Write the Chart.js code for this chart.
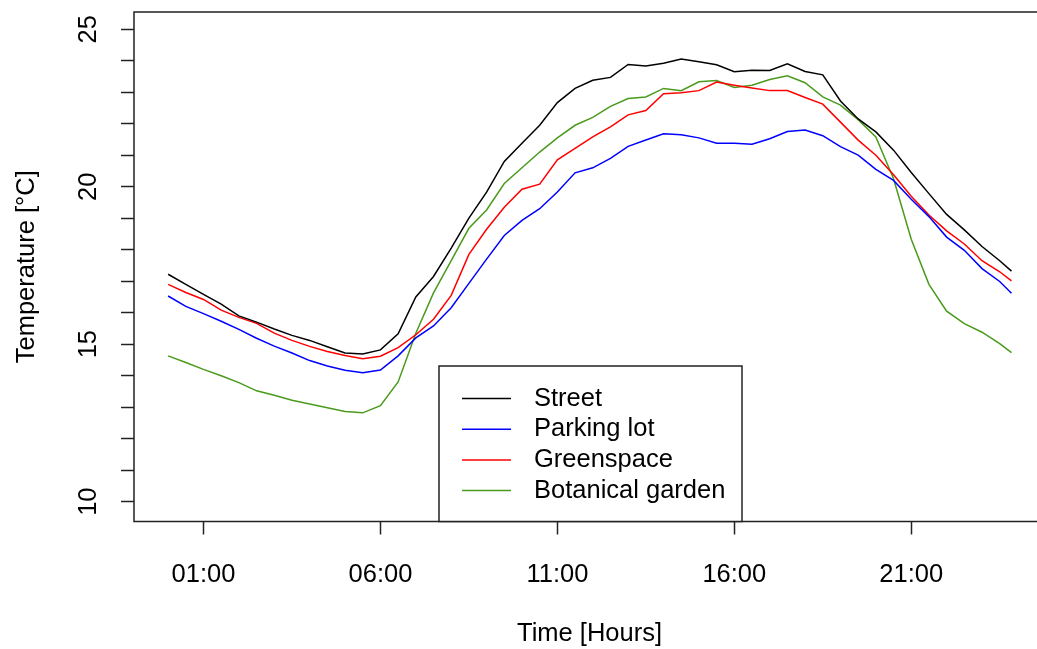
<!DOCTYPE html>
<html>
<head>
<meta charset="utf-8">
<script src="https://cdn.jsdelivr.net/npm/chart.js@4/dist/chart.umd.min.js"></script>
<style>
  html, body { margin: 0; padding: 0; background: #fff; overflow: hidden; }
  #wrap { width: 1060px; height: 649px; }
</style>
</head>
<body>
<div id="wrap"><canvas id="chart"></canvas></div>
<script>
// time of day in hours (half-hourly readings, last at 23:50)
const hours = [0, 0.5, 1, 1.5, 2, 2.5, 3, 3.5, 4, 4.5, 5, 5.5, 6, 6.5, 7, 7.5, 8, 8.5, 9, 9.5,
  10, 10.5, 11, 11.5, 12, 12.5, 13, 13.5, 14, 14.5, 15, 15.5, 16, 16.5, 17, 17.5, 18, 18.5, 19, 19.5,
  20, 20.5, 21, 21.5, 22, 22.5, 23, 23.5, 23.833];

const street = [17.22, 16.90, 16.58, 16.27, 15.90, 15.70, 15.48, 15.28, 15.12, 14.92, 14.72, 14.69, 14.82, 15.33,
  16.50, 17.15, 18.05, 19.00, 19.83, 20.80, 21.38, 21.95, 22.67, 23.12, 23.38, 23.47, 23.88, 23.83, 23.92, 24.05,
  23.97, 23.87, 23.65, 23.70, 23.69, 23.90, 23.66, 23.55, 22.72, 22.15, 21.74, 21.16, 20.45, 19.78, 19.12, 18.63,
  18.10, 17.65, 17.32];
const parkingLot = [16.53, 16.20, 15.97, 15.73, 15.47, 15.19, 14.94, 14.72, 14.48, 14.31, 14.17, 14.09, 14.18, 14.63,
  15.20, 15.58, 16.16, 16.93, 17.70, 18.45, 18.93, 19.30, 19.83, 20.44, 20.60, 20.90, 21.28, 21.48, 21.68, 21.65,
  21.55, 21.38, 21.38, 21.35, 21.52, 21.75, 21.80, 21.62, 21.27, 21.00, 20.55, 20.20, 19.60, 19.05, 18.40, 17.98,
  17.40, 16.99, 16.62];
const greenspace = [16.90, 16.64, 16.42, 16.08, 15.85, 15.66, 15.35, 15.12, 14.93, 14.77, 14.64, 14.54, 14.62, 14.89,
  15.30, 15.79, 16.55, 17.85, 18.65, 19.35, 19.92, 20.08, 20.85, 21.22, 21.58, 21.90, 22.28, 22.42, 22.95, 22.98,
  23.05, 23.32, 23.22, 23.13, 23.05, 23.05, 22.83, 22.62, 22.05, 21.48, 21.00, 20.38, 19.70, 19.10, 18.60, 18.18,
  17.65, 17.30, 17.01];
const botanicalGarden = [14.63, 14.42, 14.20, 14.00, 13.78, 13.52, 13.38, 13.22, 13.10, 12.98, 12.86, 12.82, 13.05, 13.80,
  15.35, 16.63, 17.65, 18.68, 19.26, 20.10, 20.60, 21.10, 21.55, 21.95, 22.20, 22.55, 22.80, 22.85, 23.12, 23.05,
  23.33, 23.37, 23.15, 23.22, 23.40, 23.52, 23.30, 22.85, 22.59, 22.13, 21.58, 20.25, 18.33, 16.90, 16.05, 15.65,
  15.38, 15.02, 14.73];

const seriesNames = ['Street', 'Parking lot', 'Greenspace', 'Botanical garden'];
const seriesColors = ['#000000', '#0000FF', '#FF0000', '#4A9A1C'];

const xTickHours = [1, 6, 11, 16, 21];
const xTickLabels = ['01:00', '06:00', '11:00', '16:00', '21:00'];
const yTickValues = [10, 11, 12, 13, 14, 15, 16, 17, 18, 19, 20, 21, 22, 23, 24, 25];
const yLabelEvery = 5;

const fontFamily = '"Liberation Sans", Arial, sans-serif';
const fontSize = 25.5;
Chart.defaults.font.family = fontFamily;
Chart.defaults.font.size = fontSize;
Chart.defaults.color = '#000';

function toPoints(values) {
  return values.map((v, i) => ({ x: hours[i], y: v }));
}

const allSeries = [street, parkingLot, greenspace, botanicalGarden];
const datasets = allSeries.map((values, i) => ({
  label: seriesNames[i],
  data: toPoints(values),
  borderColor: seriesColors[i],
  borderWidth: 1.5,
  pointRadius: 0,
  tension: 0,
  fill: false,
}));

// R-style box around the plot region (right side runs off the picture)
const plotBox = {
  id: 'plotBox',
  afterDatasetsDraw(chart) {
    const { ctx, chartArea: { left, top, width, height } } = chart;
    ctx.save();
    ctx.strokeStyle = '#222';
    ctx.lineWidth = 1.5;
    ctx.strokeRect(left, top, width, height);
    ctx.restore();
  },
};

// boxed legend sitting on the bottom axis
const boxLegend = {
  id: 'boxLegend',
  afterDraw(chart) {
    const { ctx } = chart;
    const bottom = chart.chartArea.bottom;
    const boxLeft = 439;
    const boxRight = 742;
    const boxTop = 366;
    ctx.save();
    ctx.fillStyle = '#fff';
    ctx.fillRect(boxLeft, boxTop, boxRight - boxLeft, bottom - boxTop);
    ctx.strokeStyle = '#222';
    ctx.lineWidth = 1.5;
    ctx.strokeRect(boxLeft, boxTop, boxRight - boxLeft, bottom - boxTop);
    ctx.font = `${fontSize}px ${fontFamily}`;
    ctx.textBaseline = 'middle';
    ctx.textAlign = 'left';
    chart.data.datasets.forEach((ds, i) => {
      const y = 398.5 + i * 30.7;
      ctx.strokeStyle = ds.borderColor;
      ctx.lineWidth = 1.5;
      ctx.beginPath();
      ctx.moveTo(462, y);
      ctx.lineTo(511, y);
      ctx.stroke();
      ctx.fillStyle = '#000';
      ctx.fillText(ds.label, 534, y);
    });
    ctx.restore();
  },
};

new Chart(document.getElementById('chart'), {
  type: 'line',
  data: { datasets },
  options: {
    responsive: true,
    maintainAspectRatio: false,
    animation: false,
    layout: { padding: { left: 0, top: 12, right: 15, bottom: 0 } },
    plugins: {
      legend: { display: false },
      tooltip: { enabled: false },
    },
    scales: {
      x: {
        type: 'linear',
        min: -0.964,
        max: 24.78,
        afterBuildTicks: (scale) => {
          scale.ticks = xTickHours.map((h) => ({ value: h }));
        },
        afterFit: (scale) => {
          scale.height = 127.5;
          scale.paddingLeft = 0;
          scale.paddingRight = 0;
        },
        border: { display: false },
        grid: {
          drawOnChartArea: false,
          tickLength: 13,
          tickColor: '#222',
          tickWidth: 1.5,
        },
        ticks: {
          autoSkip: false,
          maxRotation: 0,
          padding: 25,
          callback: (value) => xTickLabels[xTickHours.indexOf(value)],
        },
        title: {
          display: true,
          text: 'Time [Hours]',
          padding: { top: 0, bottom: 0 },
        },
      },
      y: {
        min: 9.371,
        max: 25.546,
        afterBuildTicks: (scale) => {
          scale.ticks = yTickValues.map((v) => ({ value: v }));
        },
        afterFit: (scale) => {
          scale.width = 134;
          scale.paddingTop = 0;
          scale.paddingBottom = 0;
        },
        border: { display: false },
        grid: {
          drawOnChartArea: false,
          tickLength: 13,
          tickColor: '#222',
          tickWidth: 1.5,
        },
        ticks: {
          autoSkip: false,
          minRotation: 90,
          maxRotation: 90,
          crossAlign: 'center',
          padding: 18,
          callback: (value) => (value % yLabelEvery === 0 ? String(value) : ''),
        },
        title: {
          display: true,
          text: 'Temperature [°C]',
          padding: { top: 12, bottom: 0 },
        },
      },
    },
  },
  plugins: [plotBox, boxLegend],
});
</script>
</body>
</html>
